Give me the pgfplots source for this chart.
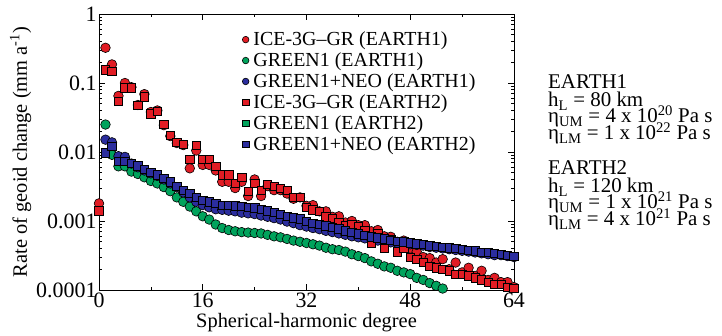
\documentclass[border=0pt]{standalone}
\usepackage{pgfplots}
\usepackage{pgfplotstable}
\pgfplotsset{compat=1.18}
\usepackage{fontspec}
\setmainfont{Liberation Serif}
\definecolor{cred}{RGB}{225,28,36}
\definecolor{cgreen}{RGB}{0,163,92}
\definecolor{cblue}{RGB}{43,45,158}

\pgfplotstableread{
n r1 g1 b1 r2 b2
0 0.0018 nan nan 0.0014 nan
1 0.324 0.025 0.0151 0.155 0.0098
2 0.186 0.0091 0.0138 0.148 0.012
3 0.065 0.0062 0.0087 0.054 0.0074
4 0.1 0.0062 0.0085 0.085 0.0074
5 0.087 0.0052 0.0068 0.085 0.0069
6 0.048 0.0048 0.006 0.048 0.0063
7 0.069 0.0043 0.0054 0.063 0.0056
8 0.038 0.0038 0.0049 0.036 0.0051
9 0.040 0.0035 0.0045 0.039 0.0047
10 0.0245 0.0031 0.004 0.025 0.0042
11 0.017 0.0027 0.0035 0.0174 0.0037
12 0.0135 0.0022 0.0031 0.0138 0.0032
13 0.0126 0.0019 0.0026 0.0129 0.0028
14 0.0058 0.00162 0.0022 0.0078 0.0025
15 0.0105 0.00138 0.0019 0.0126 0.0022
16 0.0065 0.00117 0.0017 0.0078 0.002
17 0.0065 0.00105 0.00158 0.0078 0.0019
18 0.0054 0.00089 0.00148 0.0062 0.0018
19 0.0037 0.00079 0.00145 0.0047 0.0017
20 0.0037 0.00074 0.00141 0.0047 0.0017
21 0.003 0.00071 0.00138 0.0035 0.00166
22 0.0037 0.00069 0.00132 0.0043 0.00162
23 0.0023 0.00068 0.00129 0.0027 0.00158
24 0.004 0.00067 0.00126 0.0035 0.00155
25 0.0023 0.00066 0.0012 0.0028 0.00148
26 0.0032 0.00063 0.00115 0.0034 0.00141
27 0.0028 0.0006 0.0011 0.0032 0.00135
28 0.0028 0.00058 0.00105 0.003 0.00126
29 0.0025 0.00055 0.00098 0.0028 0.00117
30 0.0021 0.00052 0.00093 0.0022 0.00112
31 0.0022 0.0005 0.00087 0.0022 0.00107
32 0.00166 0.00048 0.00083 0.00158 0.001
33 0.0017 0.00046 0.00079 0.00145 0.00093
34 0.00138 0.00044 0.00076 0.00138 0.00089
35 0.00138 0.00041 0.00072 0.00115 0.00085
36 0.00115 0.00039 0.00069 0.0011 0.00081
37 0.00117 0.00038 0.00066 0.00095 0.00077
38 0.00095 0.00036 0.00063 0.00087 0.00072
39 0.001 0.00033 0.0006 0.00089 0.00068
40 0.00087 0.00031 0.00058 0.00083 0.00065
41 0.00087 0.00029 0.00056 0.00074 0.00062
42 0.00071 0.00026 0.00054 0.00048 0.00059
43 0.00074 0.00024 0.00052 0.00066 0.00057
44 0.0006 0.00022 0.0005 0.0004 0.00055
45 0.00059 0.00021 0.00049 0.00054 0.00053
46 0.0005 0.00019 0.00048 0.00036 0.00051
47 0.00052 0.00018 0.00047 0.0004 0.0005
48 0.0004 0.00017 0.00046 0.0003 0.00048
49 0.00036 0.00015 0.00045 0.00028 0.00047
50 0.0003 0.00014 0.00044 0.00025 0.00046
51 0.00029 0.000126 0.00042 0.00022 0.00044
52 0.00025 0.000115 0.00041 0.00021 0.00043
53 0.00028 0.000105 0.0004 0.0002 0.00042
54 0.0002 nan 0.00039 0.00019 0.00041
55 0.00025 nan 0.00038 0.00017 0.0004
56 0.00018 nan 0.00037 0.00017 0.00039
57 0.00021 nan 0.00036 0.00016 0.00038
58 0.00016 nan 0.00035 0.00015 0.00037
59 0.00019 nan 0.00034 0.00014 0.00035
60 0.00014 nan 0.00033 0.00013 0.00035
61 0.00015 nan 0.00032 0.00012 0.00034
62 0.00013 nan 0.00032 0.00012 0.00033
63 0.00013 nan 0.00031 0.00011 0.00032
64 0.00011 nan 0.0003 0.000105 0.00031
}\datatab

\begin{document}
\begin{tikzpicture}
\begin{axis}[
  name=ax, at={(0,0)}, anchor=south west,
  scale only axis, width=415bp, height=276bp,
  ymode=log, xmin=0, xmax=64, ymin=1e-4, ymax=1,
  xtick={0,16,32,48,64}, xticklabels={0,16,32,48,64},
  minor xtick={8,24,40,56},
  ytick={1e-4,1e-3,1e-2,1e-1,1},
  yticklabels={0.0001,0.001,0.01,0.1,1},
  minor ytick={2e-4,3e-4,4e-4,5e-4,6e-4,7e-4,8e-4,9e-4,2e-3,3e-3,4e-3,5e-3,6e-3,7e-3,8e-3,9e-3,2e-2,3e-2,4e-2,5e-2,6e-2,7e-2,8e-2,9e-2,2e-1,3e-1,4e-1,5e-1,6e-1,7e-1,8e-1,9e-1},
  tick align=inside, major tick length=6bp, minor tick length=3bp,
  tick style={black, line width=0.6bp},
  axis line style={black, line width=0.8bp},
  ticklabel style={font=\fontsize{22}{22}\selectfont},
  xticklabel style={yshift=1bp},
  yticklabel style={xshift=1bp},
  label style={font=\fontsize{20.5}{21}\selectfont},
  xlabel={Spherical-harmonic degree},
  ylabel={Rate of geoid change (mm a\textsuperscript{-1})},
  xlabel style={yshift=1bp},
  ylabel style={yshift=-2bp},
  clip=true,
  legend style={draw=none, fill=none, at={(0.345,0.94)}, anchor=north west,
    font=\fontsize{20}{20}\selectfont, row sep=3.2bp, inner sep=0pt,
    nodes={inner ysep=1.2bp, inner xsep=4.5bp}},
  legend cell align=left,
  legend image code/.code={\draw[#1, mark size=3.3bp] plot coordinates {(0.05cm,0cm)};},
]
\addplot[only marks, mark=*, mark size=4.8bp, mark options={fill=cred, draw=black, line width=0.6bp}] table[x=n,y=r1]{\datatab};
\addlegendentry{ICE-3G--GR (EARTH1)}
\addplot[only marks, mark=*, mark size=4.8bp, mark options={fill=cgreen, draw=black, line width=0.6bp}] table[x=n,y=g1]{\datatab};
\addlegendentry{GREEN1 (EARTH1)}
\addplot[only marks, mark=*, mark size=4.8bp, mark options={fill=cblue, draw=black, line width=0.6bp}] table[x=n,y=b1]{\datatab};
\addlegendentry{GREEN1+NEO (EARTH1)}
\addplot[only marks, mark=square*, mark size=4.2bp, mark options={fill=cred, draw=black, line width=0.6bp}] table[x=n,y=r2]{\datatab};
\addlegendentry{ICE-3G--GR (EARTH2)}
\addplot[only marks, mark=square*, mark size=4.2bp, mark options={fill=cgreen, draw=black, line width=0.6bp}] table[x=n,y=b2]{\datatab};
\addlegendentry{GREEN1 (EARTH2)}
\addplot[only marks, mark=square*, mark size=4.2bp, mark options={fill=cblue, draw=black, line width=0.6bp}] table[x=n,y=b2]{\datatab};
\addlegendentry{GREEN1+NEO (EARTH2)}
\end{axis}
\begin{scope}[shift={(ax.south west)}, every node/.style={anchor=base west, inner sep=0pt, font=\fontsize{21}{21}\selectfont}]
\node at (449bp,201bp) {EARTH1};
\node at (449bp,183bp) {h\textsubscript{L} = 80 km};
\node at (449bp,167bp) {η\textsubscript{UM} = 4 x 10\textsuperscript{20} Pa s};
\node at (449bp,150bp) {η\textsubscript{LM} = 1 x 10\textsuperscript{22} Pa s};
\node at (449bp,115bp) {EARTH2};
\node at (449bp,97bp) {h\textsubscript{L} = 120 km};
\node at (449bp,81bp) {η\textsubscript{UM} = 1 x 10\textsuperscript{21} Pa s};
\node at (449bp,64bp) {η\textsubscript{LM} = 4 x 10\textsuperscript{21} Pa s};
\path[use as bounding box] (-99bp,-46bp) rectangle (623bp,290bp);
\end{scope}
\end{tikzpicture}
\end{document}
